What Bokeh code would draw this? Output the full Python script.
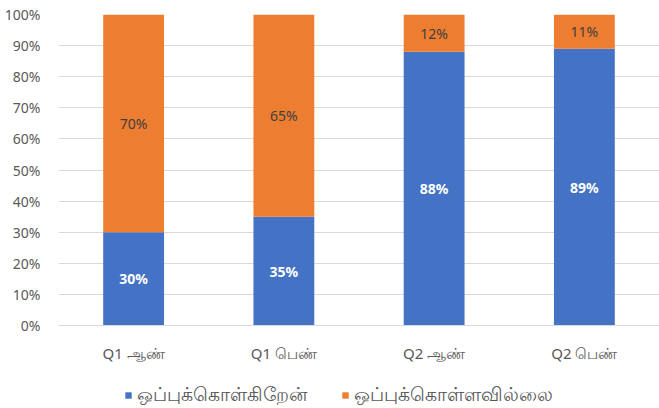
from bokeh.plotting import figure
from bokeh.layouts import column
from bokeh.models import ColumnDataSource, FactorRange, Range1d, FixedTicker, Legend, LegendItem
from bokeh.core.properties import value
from bokeh.embed import file_html
from bokeh.resources import INLINE

categories = ["Q1 ஆண்", "Q1 பெண்", "Q2 ஆண்", "Q2 பெண்"]
agree = [0.30, 0.35, 0.88, 0.89]
disagree = [0.70, 0.65, 0.12, 0.11]
series_names = ["ஒப்புக்கொள்கிறேன்", "ஒப்புக்கொள்ளவில்லை"]
colors = ["#4472C4", "#ED7D31"]
y_ticks = [0, 0.1, 0.2, 0.3, 0.4, 0.5, 0.6, 0.7, 0.8, 0.9, 1.0]

FONT = "Noto Sans"
GRAY = "#595959"

src = ColumnDataSource(dict(
    cat=categories,
    agree=agree,
    disagree=disagree,
    agree_mid=[a / 2 for a in agree],
    dis_mid=[a + d / 2 for a, d in zip(agree, disagree)],
    agree_lbl=[f"{round(a*100)}%" for a in agree],
    dis_lbl=[f"{round(d*100)}%" for d in disagree],
))

p = figure(x_range=FactorRange(*categories, range_padding=0), y_range=Range1d(0, 1),
           width=659, height=368, output_backend="svg", toolbar_location=None,
           min_border_left=58, min_border_right=0, min_border_top=14,
           min_border_bottom=43)
p.outline_line_color = None
p.background_fill_color = "white"

r = p.vbar_stack(["agree", "disagree"], x="cat", width=0.405, source=src,
                 color=colors, line_color=None)

p.text(x="cat", y="agree_mid", text="agree_lbl", source=src, text_color="white",
       text_font=value(FONT), text_font_style="bold", text_font_size="14px",
       text_align="center", text_baseline="middle")
p.text(x="cat", y="dis_mid", text="dis_lbl", source=src, text_color="#404040",
       text_font=value(FONT), text_font_size="14px",
       text_align="center", text_baseline="middle")

p.yaxis.ticker = FixedTicker(ticks=y_ticks)
p.yaxis.major_label_overrides = {t: f"{round(t*100)}%" for t in y_ticks}
p.yaxis.axis_line_color = None
p.yaxis.major_tick_line_color = None
p.yaxis.minor_tick_line_color = None
p.yaxis.major_label_text_color = GRAY
p.yaxis.major_label_text_font = FONT
p.yaxis.major_label_text_font_size = "14px"
p.yaxis.major_label_standoff = 12

p.xaxis.axis_line_color = "#d9d9d9"
p.xaxis.major_tick_line_color = None
p.xaxis.minor_tick_line_color = None
p.xaxis.major_label_text_color = GRAY
p.xaxis.major_label_text_font = FONT
p.xaxis.major_label_text_font_size = "15px"
p.xaxis.major_label_standoff = 11

p.xgrid.grid_line_color = None
p.ygrid.grid_line_color = "#d9d9d9"
p.ygrid.grid_line_width = 1

# legend strip below the chart
lg = figure(width=659, height=40, x_range=Range1d(0, 1), y_range=Range1d(0, 1),
            output_backend="svg", toolbar_location=None,
            x_axis_location=None, y_axis_location=None,
            min_border_left=0, min_border_right=0, min_border_top=0, min_border_bottom=0)
lg.outline_line_color = None
lg.grid.visible = False
offscreen = ColumnDataSource(dict(x=[5], top=[5]))
lr = [lg.vbar(x="x", top="top", width=0.1, source=offscreen, color=c, line_color=None)
      for c in colors]
legend_x = [66, 283]
for name, rr, lx in zip(series_names, lr, legend_x):
    lgd = Legend(items=[LegendItem(label=name, renderers=[rr])],
                 orientation="horizontal", location=(lx, 0),
                 glyph_width=8, glyph_height=8, label_text_font=FONT,
                 label_text_font_size="19px", label_text_color=GRAY,
                 border_line_color=None, background_fill_alpha=0,
                 label_standoff=5, padding=0, margin=0)
    lg.add_layout(lgd, "center")

open("out.html", "w").write(file_html(column(p, lg, spacing=0), INLINE))
